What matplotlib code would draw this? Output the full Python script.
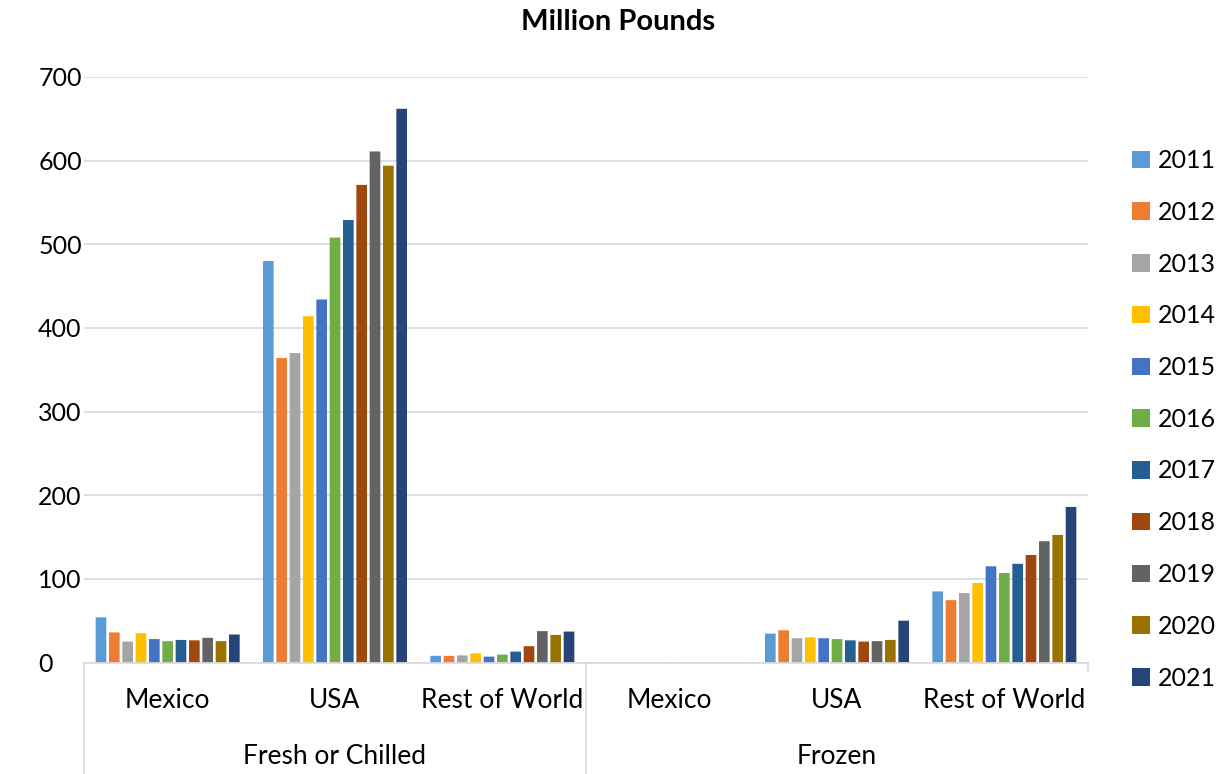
import matplotlib
matplotlib.use("Agg")
import matplotlib.pyplot as plt
from matplotlib.patches import Patch

plt.rcParams['font.family'] = ['Lato', 'DejaVu Sans']

years = ['2011', '2012', '2013', '2014', '2015', '2016', '2017', '2018', '2019', '2020', '2021']
colors = ['#5B9BD5', '#ED7D31', '#A5A5A5', '#FFC000', '#4472C4', '#70AD47',
          '#255E91', '#9E480E', '#636363', '#997300', '#264478']

groups = ['Fresh or Chilled', 'Frozen']
origins = ['Mexico', 'USA', 'Rest of World']

# million pounds, one value per year
fresh_mexico = [54, 36, 25, 35, 28, 25.5, 27, 26.5, 29.5, 25.5, 33.5]
fresh_usa = [480, 364, 370, 414, 434, 508, 529, 571, 611, 594, 662]
fresh_row = [8, 8, 8.5, 11, 7, 9.5, 13, 19.5, 37.5, 33, 37]
frozen_mexico = [0.1, 0.1, 0.1, 0.2, 0.1, 0.2, 0.1, 0.2, 0.1, 0.2, 0.1]
frozen_usa = [34.5, 38.5, 29, 30, 29, 28, 26.5, 25, 25.5, 27, 50]
frozen_row = [85, 74.5, 83, 95, 115, 107, 118, 128.5, 145, 152.5, 186]

series = [fresh_mexico, fresh_usa, fresh_row, frozen_mexico, frozen_usa, frozen_row]

W, H = 1223, 774
fig = plt.figure(figsize=(W / 100, H / 100), dpi=100)
ax = fig.add_axes([84 / W, 1 - 662.5 / H, (1088 - 84) / W, (662.5 - 77) / H])

step = 0.0797
width = 0.0637
for k, year in enumerate(years):
    xs = [i + 0.5 + (k - 5) * step for i in range(len(series))]
    vals = [s[k] for s in series]
    ax.bar(xs, vals, width=width, color=colors[k], zorder=3, snap=False)

ax.set_xlim(0, 6)
ax.set_ylim(0, 700)
ax.set_yticks(range(0, 701, 100))
ax.yaxis.grid(True, color='#D9D9D9', linewidth=1.2, zorder=0)
ax.tick_params(axis='y', length=0, pad=33, labelsize=18, colors='black')
for lab in ax.get_yticklabels():
    lab.set_horizontalalignment('left')

for side in ['left', 'right', 'top']:
    ax.spines[side].set_visible(False)
ax.spines['bottom'].set_color('#D9D9D9')
ax.spines['bottom'].set_linewidth(1.2)
ax.spines['bottom'].set_zorder(4)
ax.set_xticks([])

ah = 662.5 - 77
xt = ax.get_xaxis_transform()
for g in range(2):
    for j, name in enumerate(origins):
        ax.text(g * 3 + j + 0.5, -37.5 / ah, name, transform=xt,
                ha='center', va='center', fontsize=19)
    ax.text(g * 3 + 1.5, -93.5 / ah, groups[g], transform=xt,
            ha='center', va='center', fontsize=19)

for x0 in [0, 3]:
    ax.plot([x0, x0], [0, -112 / ah], transform=xt, color='#D9D9D9',
            linewidth=1.2, clip_on=False)
ax.plot([6, 6], [0, -8 / ah], transform=xt, color='#D9D9D9',
        linewidth=1.2, clip_on=False)

fig.text(618 / W, 1 - 22 / H, 'Million Pounds', ha='center', va='center',
         fontsize=21, fontweight='bold')

handles = [Patch(facecolor=c) for c in colors]
ax.legend(handles, years, loc='upper left', bbox_to_anchor=(1132 / W, 1 - 149 / H),
          bbox_transform=fig.transFigure, frameon=False, fontsize=18,
          handlelength=0.7, handleheight=0.7, handletextpad=0.32,
          labelspacing=1.15, borderpad=0, borderaxespad=0)

fig.savefig('out.png', dpi=100)
